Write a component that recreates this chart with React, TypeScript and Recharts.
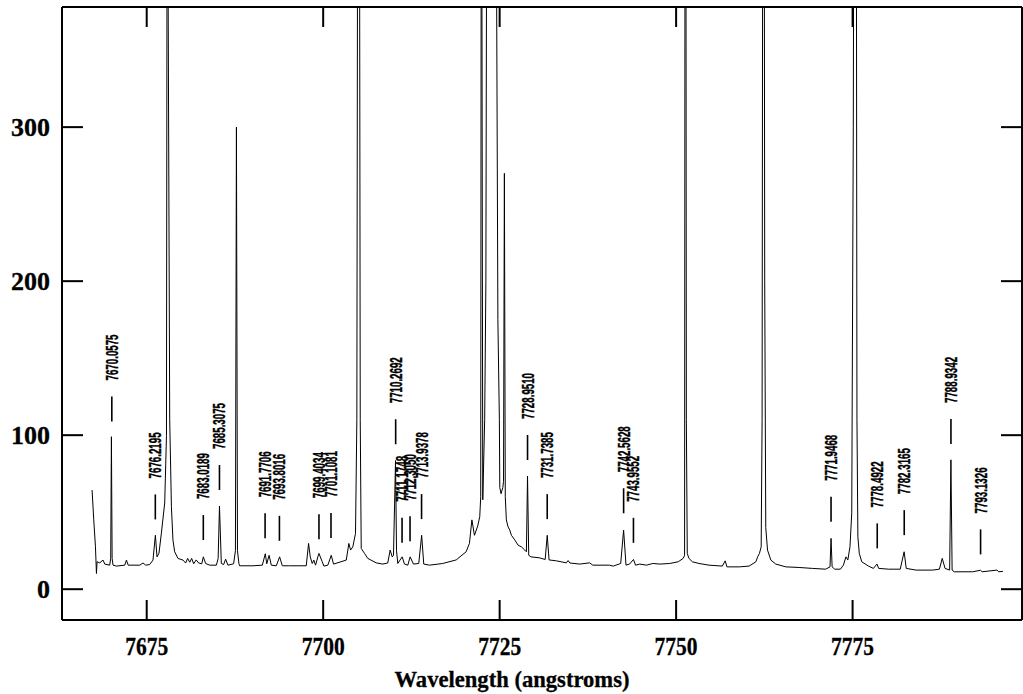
import { LineChart, Line, XAxis, YAxis, ReferenceDot, Label } from 'recharts'

// arc-lamp spectrum, wavelength in angstroms
const wavelength = [
  7667.26, 7667.5, 7667.74, 7667.88, 7667.97, 7668.35, 7668.81, 7669.06, 7669.76, 7669.9,
  7670.0, 7670.1, 7670.23, 7670.71, 7671.89, 7672.13, 7672.38, 7674.01, 7674.48, 7674.86,
  7675.42, 7675.89, 7676.23, 7676.46, 7676.74, 7677.08, 7677.55, 7677.8, 7677.92, 7678.04,
  7678.26, 7678.5, 7678.72, 7678.96, 7679.43, 7680.14, 7680.52, 7680.8, 7681.09, 7681.37,
  7681.65, 7682.01, 7682.36, 7682.8, 7683.02, 7683.35, 7683.92, 7684.87, 7685.12, 7685.31,
  7685.57, 7685.9, 7686.18, 7686.51, 7687.31, 7687.57, 7687.71, 7687.86, 7688.06, 7688.16,
  7690.05, 7691.38, 7691.8, 7692.01, 7692.34, 7692.65, 7693.36, 7693.83, 7694.21, 7695.24,
  7697.6, 7697.93, 7698.17, 7698.45, 7698.68, 7698.92, 7699.25, 7699.4, 7699.87, 7700.1,
  7700.66, 7701.14, 7701.47, 7703.27, 7703.64, 7703.88, 7704.2, 7704.58, 7704.77, 7705.02,
  7705.25, 7705.39, 7705.86, 7706.32, 7707.51, 7708.45, 7709.15, 7709.49, 7709.78, 7709.96,
  7710.25, 7710.39, 7710.57, 7711.19, 7711.52, 7711.99, 7712.32, 7712.79, 7713.54, 7713.95,
  7714.25, 7715.06, 7716.94, 7718.84, 7720.25, 7720.72, 7721.07, 7721.43, 7721.89, 7722.18,
  7722.32, 7722.41, 7722.61, 7722.88, 7723.05, 7723.28, 7723.85, 7724.58, 7724.75, 7724.96,
  7725.02, 7725.2, 7725.45, 7725.55, 7725.67, 7725.8, 7725.95, 7726.19, 7726.43, 7726.67,
  7727.14, 7727.61, 7728.08, 7728.55, 7728.79, 7728.95, 7729.12, 7729.43, 7730.6, 7731.45,
  7731.74, 7732.0, 7733.05, 7734.45, 7734.7, 7734.95, 7736.35, 7737.75, 7738.2, 7740.55,
  7741.1, 7742.15, 7742.56, 7742.9, 7743.4, 7743.96, 7744.25, 7744.85, 7745.8, 7746.7,
  7747.7, 7749.1, 7750.3, 7751.0, 7751.2, 7751.32, 7751.45, 7751.58, 7751.82, 7752.3,
  7753.25, 7754.65, 7756.55, 7756.95, 7757.2, 7758.95, 7760.35, 7761.3, 7761.55, 7761.8,
  7762.05, 7762.18, 7762.38, 7762.55, 7762.7, 7762.95, 7763.42, 7764.12, 7765.54, 7767.42,
  7769.3, 7771.19, 7771.8, 7771.95, 7772.1, 7772.47, 7773.27, 7773.7, 7774.06, 7774.33,
  7774.63, 7774.88, 7775.1, 7775.4, 7775.62, 7775.75, 7775.95, 7776.3, 7777.25, 7777.95,
  7778.45, 7778.7, 7780.1, 7781.75, 7782.3, 7782.6, 7784.0, 7786.35, 7787.3, 7787.7,
  7788.1, 7788.75, 7788.93, 7789.1, 7789.4, 7792.0, 7793.13, 7793.35, 7795.45, 7795.7,
  7796.3,
]

const counts = [
  64.4, 45, 27.5, 10.2, 17.8, 17.1, 18.9, 16.3, 15.6, 20,
  99, 20, 15.6, 15, 15.6, 18.9, 15.6, 15.6, 17, 15.6,
  16, 18.9, 35, 21, 23.4, 36.4, 56, 100, 600, 380,
  110, 53.5, 31.9, 24.3, 20, 18.9, 17, 20, 17.5, 20,
  16.5, 19, 17, 16.5, 21, 16.7, 15.6, 15.6, 20, 54,
  16.7, 16, 19.5, 15.6, 16.5, 25, 300, 25, 16.7, 15.2,
  15.2, 15.6, 23, 16.5, 22, 15.6, 15.2, 21, 15.2, 15.2,
  15.2, 29.7, 21, 16.7, 18.9, 15.6, 21, 23.2, 17.8, 15,
  15.6, 22, 16.3, 18.9, 29.7, 25.4, 27.5, 36.2, 110, 900,
  110, 26.5, 23.2, 20, 17.1, 16.3, 17, 25.4, 21, 22,
  83.5, 25, 16.7, 21, 16.3, 15.6, 21, 16.3, 16.7, 35,
  16.3, 15.6, 16.7, 19, 24.3, 29.7, 45, 35, 41, 47,
  60, 600, 58, 110, 200, 700, 1000, 378, 175, 110,
  66, 62, 66, 70, 270, 60, 45, 40.5, 38.4, 35,
  32, 28.6, 27.5, 25.4, 24.3, 73.5, 22, 21, 20.4, 19.3,
  35, 19, 18.4, 17.1, 18.6, 17, 16.3, 17.1, 15.6, 15.6,
  15, 16.7, 38.4, 15.6, 16.3, 19.3, 15.6, 16.3, 15.6, 16.7,
  16.3, 16.7, 17.8, 20, 22, 900, 110, 23.2, 20, 17.8,
  16.7, 15.6, 15, 18.4, 14.5, 14.5, 15, 17.8, 21, 23.2,
  27.5, 110, 900, 200, 40, 25.4, 18.9, 16.3, 14.5, 14.1,
  13.5, 13, 14.5, 33, 14.5, 13, 13, 15.6, 21, 19,
  27.5, 49.3, 300, 1000, 110, 34, 23.2, 17.8, 15, 13.5,
  16.3, 13.5, 13, 13, 24.3, 13.5, 12.4, 12.4, 13, 20,
  13.5, 12.4, 84, 12.4, 11.3, 11.3, 12.3, 11.3, 12.4, 11.3,
  11.6,
]

const xTicks = [7675, 7700, 7725, 7750, 7775]
const yTicks = [0, 100, 200, 300]

// identified lines and the flux level their marker starts from
const lineIds = [
  '7670.0575', '7676.2195', '7683.0189', '7685.3075', '7691.7706', '7693.8016', '7699.4034',
  '7701.1081', '7710.2692', '7711.1748', '7712.3050', '7713.9378', '7728.9510', '7731.7385',
  '7742.5628', '7743.9552', '7771.9468', '7778.4922', '7782.3165', '7788.9342', '7793.1326',
]
const lineLevels = [
  108.9, 45.3, 31.9, 64.4, 33.0, 31.4, 32.5,
  33.2, 94.1, 30.1, 31.2, 45.5, 83.9, 45.5,
  49.3, 30.1, 43.8, 26.5, 35.1, 94.3, 22.6,
]

const data = wavelength.map((w, i) => ({ w, f: counts[i] }))

const SERIF = '"Liberation Serif", "DejaVu Serif", serif'
const SANS = '"Liberation Sans", "DejaVu Sans", sans-serif'

const BottomTick = ({ x, y, payload }: any) => (
  <text
    x={x}
    y={y + 55}
    textAnchor="middle"
    fontFamily={SERIF}
    fontWeight="bold"
    fontSize={26}
    stroke="#000"
    strokeWidth={0.3}
    textLength={43}
    lengthAdjust="spacingAndGlyphs"
  >
    {payload.value}
  </text>
)

const LeftTick = ({ x, y, payload }: any) => {
  const s = String(payload.value)
  return (
    <text
      x={x - 33}
      y={y + 9}
      textAnchor="end"
      fontFamily={SERIF}
      fontWeight="bold"
      fontSize={26}
      stroke="#000"
      strokeWidth={0.3}
      textLength={s.length * 13}
      lengthAdjust="spacingAndGlyphs"
    >
      {s}
    </text>
  )
}

const NoTick = () => <g />

const lineMark = (id: string) => (p: any) => {
  const { cx, cy } = p
  return (
    <g>
      <line x1={cx} x2={cx} y1={cy} y2={cy - 25} stroke="#000" strokeWidth={1.6} />
      <text
        transform={`translate(${cx + 6},${cy - 41}) rotate(-90)`}
        fontFamily={SANS}
        fontWeight="bold"
        fontSize={16}
        stroke="#000"
        strokeWidth={0.4}
        textLength={46}
        lengthAdjust="spacingAndGlyphs"
      >
        {id}
      </text>
    </g>
  )
}

const frame = { stroke: '#000', strokeWidth: 2 }

export default function App() {
  return (
    <div style={{ position: 'absolute', left: 0, top: 0, background: '#fff' }}>
      <LineChart width={1023} height={694} data={data} margin={{ top: 0, right: 0, bottom: 0, left: 0 }}>
        <XAxis
          xAxisId="b"
          orientation="bottom"
          type="number"
          dataKey="w"
          domain={[7663, 7799]}
          ticks={xTicks}
          allowDataOverflow
          height={74}
          tickSize={-20}
          tickMargin={0}
          axisLine={frame}
          tickLine={frame}
          tick={<BottomTick />}
        >
          <Label
            content={() => (
              <text
                x={512}
                y={687}
                textAnchor="middle"
                fontFamily={SERIF}
                fontWeight="bold"
                fontSize={23}
                stroke="#000"
                strokeWidth={0.3}
                textLength={235}
                lengthAdjust="spacingAndGlyphs"
              >
                Wavelength (angstroms)
              </text>
            )}
          />
        </XAxis>
        <XAxis
          xAxisId="t"
          orientation="top"
          type="number"
          dataKey="w"
          domain={[7663, 7799]}
          ticks={xTicks}
          allowDataOverflow
          height={7}
          tickSize={-20}
          axisLine={frame}
          tickLine={frame}
          tick={<NoTick />}
        />
        <YAxis
          yAxisId="l"
          orientation="left"
          type="number"
          domain={[-20, 378]}
          ticks={yTicks}
          allowDataOverflow
          width={62}
          tickSize={-21}
          tickMargin={0}
          axisLine={frame}
          tickLine={frame}
          tick={<LeftTick />}
        />
        <YAxis
          yAxisId="r"
          orientation="right"
          type="number"
          domain={[-20, 378]}
          ticks={yTicks}
          allowDataOverflow
          width={1}
          tickSize={-21}
          axisLine={frame}
          tickLine={frame}
          tick={<NoTick />}
        />
        <Line
          xAxisId="b"
          yAxisId="l"
          type="linear"
          dataKey="f"
          stroke="#000"
          strokeWidth={1}
          dot={false}
          isAnimationActive={false}
        />
        {lineIds.map((id, i) => (
          <ReferenceDot
            key={id}
            xAxisId="b"
            yAxisId="l"
            x={parseFloat(id)}
            y={lineLevels[i]}
            r={0}
            shape={lineMark(id)}
          />
        ))}
      </LineChart>
    </div>
  )
}
